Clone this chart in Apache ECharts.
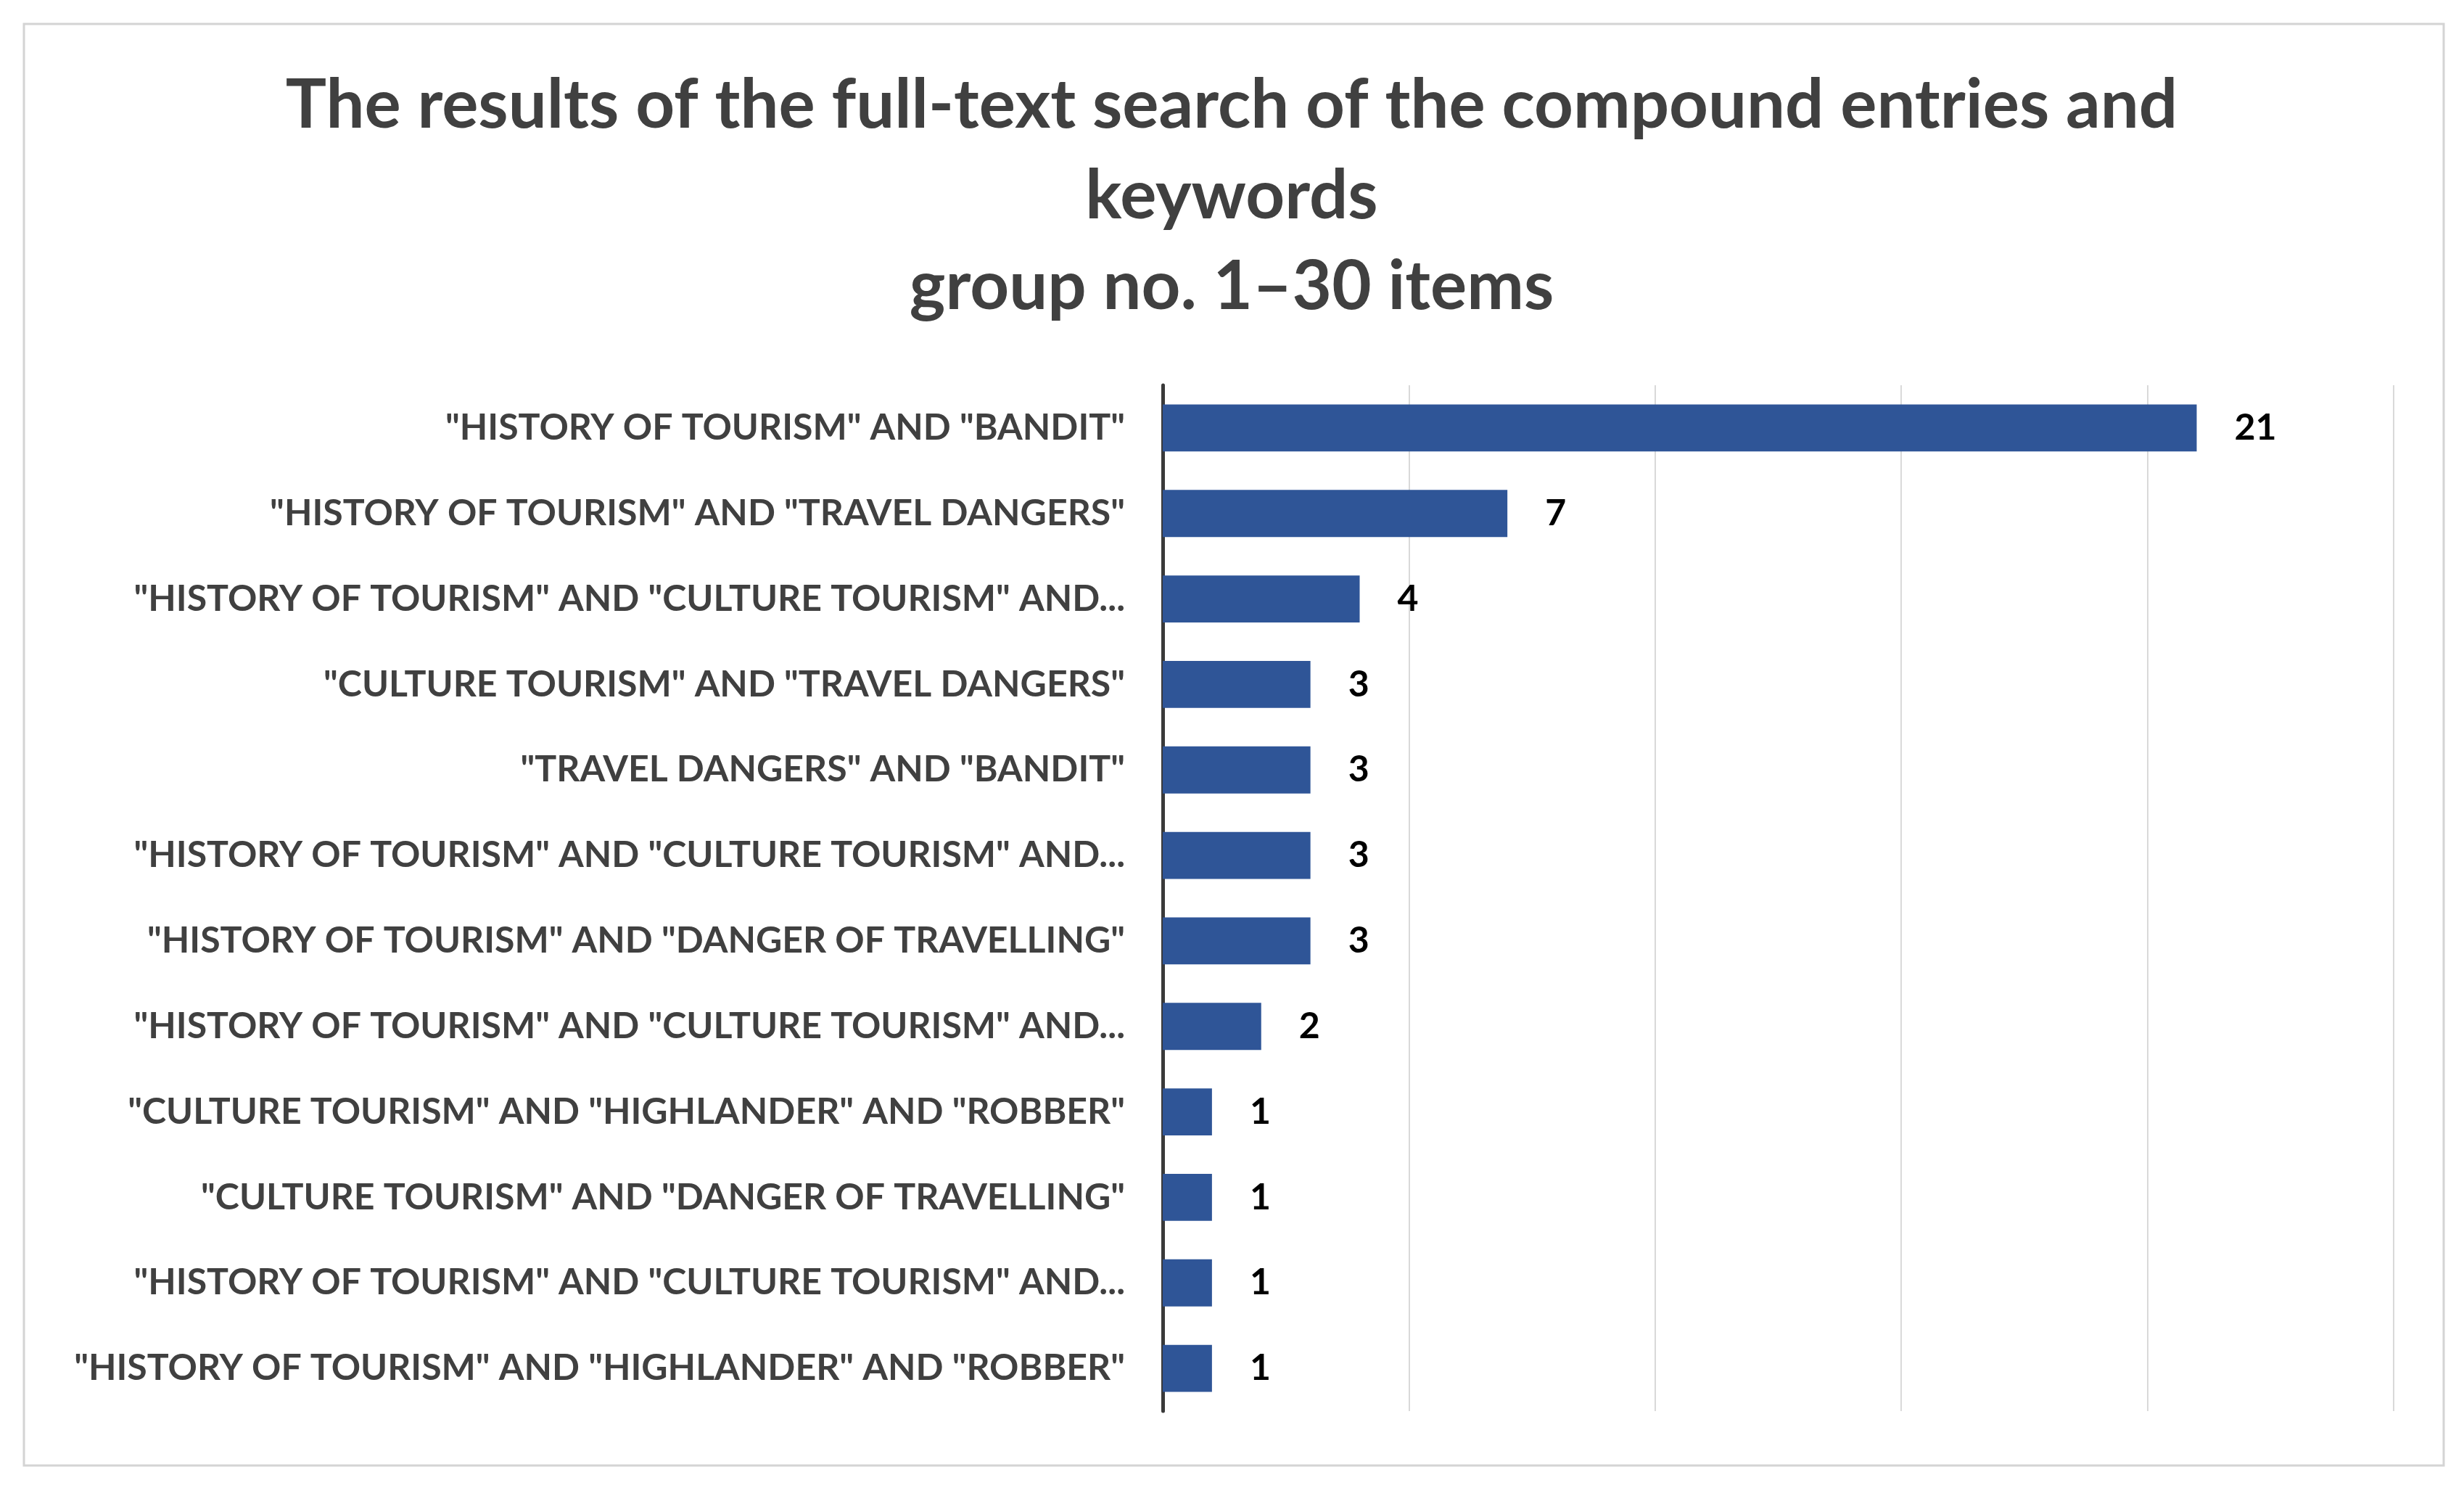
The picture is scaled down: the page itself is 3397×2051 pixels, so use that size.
<!DOCTYPE html>
<html>
<head>
<meta charset="utf-8">
<script src="https://cdn.jsdelivr.net/npm/echarts@6/dist/echarts.min.js"></script>
<style>
html,body{margin:0;padding:0;background:#fff;}
#chart{width:3397px;height:2051px;}
</style>
</head>
<body>
<div id="chart"></div>
<script>
const titleText = 'The results of the full-text search of the compound entries and\nkeywords\ngroup no. 1\u201330 items';
const categories = [
  '"HISTORY OF TOURISM" AND "BANDIT"',
  '"HISTORY OF TOURISM" AND "TRAVEL DANGERS"',
  '"HISTORY OF TOURISM" AND "CULTURE TOURISM" AND...',
  '"CULTURE TOURISM" AND "TRAVEL DANGERS"',
  '"TRAVEL DANGERS" AND "BANDIT"',
  '"HISTORY OF TOURISM" AND "CULTURE TOURISM" AND...',
  '"HISTORY OF TOURISM" AND "DANGER OF TRAVELLING"',
  '"HISTORY OF TOURISM" AND "CULTURE TOURISM" AND...',
  '"CULTURE TOURISM" AND "HIGHLANDER" AND "ROBBER"',
  '"CULTURE TOURISM" AND "DANGER OF TRAVELLING"',
  '"HISTORY OF TOURISM" AND "CULTURE TOURISM" AND...',
  '"HISTORY OF TOURISM" AND "HIGHLANDER" AND "ROBBER"'
];
const counts = [21, 7, 4, 3, 3, 3, 3, 2, 1, 1, 1, 1];
const xMin = 0, xMax = 25, xStep = 5;

const FONT = 'Lato, "Open Sans", sans-serif';
const chart = echarts.init(document.getElementById('chart'));
chart.setOption({
  backgroundColor: '#ffffff',
  animation: false,
  graphic: [{
    type: 'rect',
    shape: {x: 33, y: 33, width: 3336, height: 1987},
    style: {fill: 'none', stroke: '#d4d4d4', lineWidth: 3},
    silent: true
  }, {
    type: 'text',
    x: 1698,
    y: 83,
    silent: true,
    style: {
      text: titleText,
      align: 'center',
      verticalAlign: 'top',
      fontFamily: FONT,
      fontWeight: 'bold',
      fontSize: 94,
      lineHeight: 125,
      fill: '#404040'
    }
  }],
  grid: {left: 1603, right: 97, top: 531, bottom: 106, containLabel: false},
  xAxis: {
    type: 'value',
    min: xMin, max: xMax, interval: xStep,
    axisLabel: {show: false},
    axisTick: {show: false},
    axisLine: {show: false},
    splitLine: {show: true, lineStyle: {color: '#d9d9d9', width: 2}}
  },
  yAxis: {
    type: 'category',
    inverse: true,
    data: categories,
    axisTick: {show: false},
    axisLine: {show: true, lineStyle: {color: '#3a3a3a', width: 5}},
    axisLabel: {
      margin: 52,
      fontFamily: FONT,
      fontWeight: 'bold',
      fontSize: 50,
      color: '#404040'
    }
  },
  series: [{
    type: 'bar',
    data: counts,
    barCategoryGap: '45%',
    itemStyle: {color: '#2f5597'},
    label: {
      show: true,
      position: 'right',
      distance: 52,
      fontFamily: FONT,
      fontWeight: 'bold',
      fontSize: 50,
      color: '#000000'
    }
  }]
});
</script>
</body>
</html>
